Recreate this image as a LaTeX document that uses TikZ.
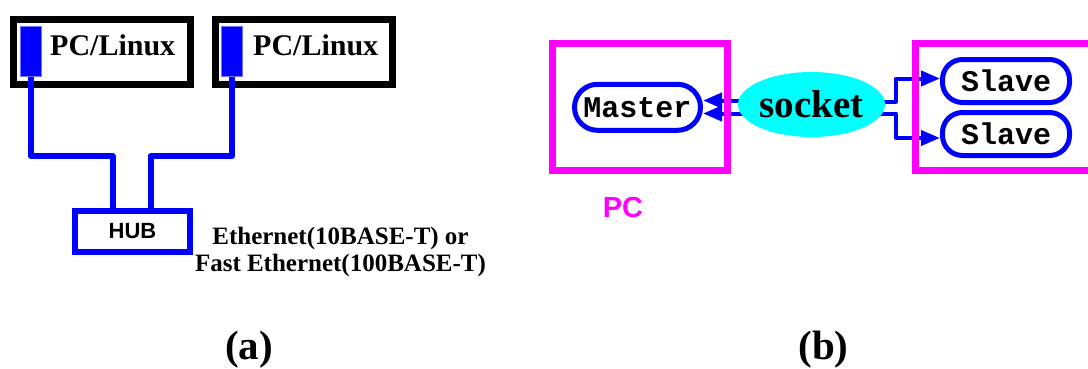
\documentclass[tikz,border=0pt]{standalone}
\usepackage{fontspec}
\setmainfont{Liberation Serif}
\setsansfont{Liberation Sans}
\setmonofont{Liberation Mono}
\usetikzlibrary{arrows.meta,shapes.geometric,backgrounds}

\definecolor{netblue}{RGB}{0,0,255}
\definecolor{hostpink}{RGB}{255,0,255}
\definecolor{sockcyan}{RGB}{0,255,255}

\tikzset{
  hostbox/.style={draw=black, line width=7pt, minimum width=177pt, minimum height=65pt, inner sep=0pt},
  port/.style={fill=netblue, draw=netblue!55!white, line width=0.8pt, minimum width=21pt, minimum height=50pt, inner sep=0pt},
  hostname/.style={font=\bfseries\fontsize{30}{36}\selectfont, inner sep=0pt, anchor=base west},
  wire/.style={netblue, line width=6pt, line join=round},
  hubbox/.style={draw=netblue, line width=6pt, minimum width=115pt, minimum height=41pt, inner sep=0pt,
    font=\sffamily\bfseries\fontsize{22}{24}\selectfont},
  note/.style={font=\bfseries\fontsize{25}{27}\selectfont, align=center, inner sep=0pt},
  caption/.style={font=\bfseries\fontsize{41}{48}\selectfont, inner sep=0pt, anchor=base},
  frame/.style={draw=hostpink, line width=7pt, minimum height=127pt, inner sep=0pt},
  proc/.style={draw=netblue, line width=5pt, inner sep=0pt,
    font=\ttfamily\bfseries\fontsize{30}{34}\selectfont},
  sock/.style={ellipse, fill=sockcyan, minimum width=127pt, minimum height=65pt, inner sep=0pt,
    font=\bfseries\fontsize{39}{44}\selectfont},
  link/.style={netblue, line width=4pt, line join=round, -{Triangle[length=19pt 0 0,width=15pt 0 0]}},
}

\begin{document}
\begin{tikzpicture}[x=1pt,y=-1pt]
\useasboundingbox (0,0) rectangle (1088,368);
\clip (0,0) rectangle (1088,368);

%% (a) two hosts on a hub
\node[hostbox] (pc1) at (101.5,52) {};
\node[hostbox] (pc2) at (303.5,52) {};
\node[port] (port1) at (31,51.5) {};
\node[port] (port2) at (232.3,51.5) {};
\node[hostname] (lin1) at (50,55) {PC/Linux};
\node[hostname] (lin2) at (253,55) {PC/Linux};

\node[hubbox] (hub) at (132.5,231.5) {HUB};
\coordinate (bus) at (0,156);

%% cables: down, across, down into the hub
\draw[wire] (port1.south) -- (port1.south |- bus) -| ([xshift=-20pt]hub.north);
\draw[wire] (port2.south) -- (port2.south |- bus) -| ([xshift=18pt]hub.north);

\node[note] (ether) at (340.5,252) {Ethernet(10BASE-T) or\\Fast Ethernet(100BASE-T)};
\node[caption] (capa) at (249,359) {(a)};

%% (b) master and slaves talking through a socket
\node[frame, minimum width=175pt] (pcframe) at (640,107) {};
\node[frame, minimum width=200pt] (remote) at (1015.5,107) {};
\node[font=\sffamily\bfseries\fontsize{29}{34}\selectfont, text=hostpink, inner sep=0pt] (pctag) at (623,207.5) {PC};

\node[proc, minimum width=126pt, minimum height=46pt, rounded corners=23pt] (master) at (637.5,107.3) {Master};
\node[sock] (socket) at (811.5,104.5) {socket};
\node[proc, minimum width=127pt, minimum height=43pt, rounded corners=20pt] (slave1) at (1006,81) {Slave};
\node[proc, minimum width=127pt, minimum height=43pt, rounded corners=20pt] (slave2) at (1006,134) {Slave};
\coordinate (fork) at (896,0);

%% links sit under the frames and the socket
\begin{scope}[on background layer]
\draw[link] ([yshift=4pt]socket.center) -- ([yshift=4pt]master.east |- socket.center);
\draw[link] ([yshift=-9pt]socket.center) -- ([yshift=-9pt]master.east |- socket.center);
\draw[link] ([yshift=3pt]socket.center) -| ([yshift=2.5pt]fork |- slave1.west) -- ([yshift=2.5pt]slave1.west);
\draw[link] ([yshift=-9pt]socket.center) -| ([yshift=-4pt]fork |- slave2.west) -- ([yshift=-4pt]slave2.west);
\end{scope}

\node[caption] (capb) at (823.5,359) {(b)};

\end{tikzpicture}
\end{document}
